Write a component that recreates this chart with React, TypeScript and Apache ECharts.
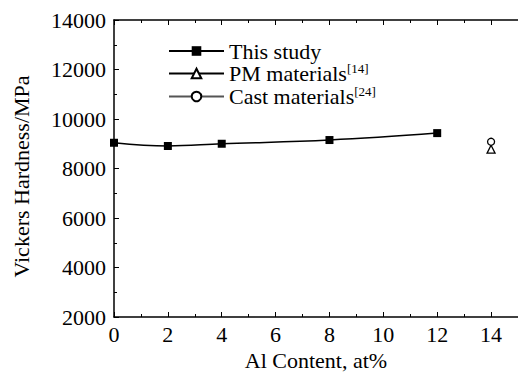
import React, { useEffect, useRef } from "react";
import * as echarts from "echarts";

const studyX = [0, 2, 4, 8, 12];
const studyY = [9040, 8910, 9000, 9150, 9430];
const pmX = [14];
const pmY = [8780];
const castX = [14];
const castY = [9080];
const xTicks = [0, 2, 4, 6, 8, 10, 12, 14];
const yTicks = [2000, 4000, 6000, 8000, 10000, 12000, 14000];

const FONT = "Liberation Serif";

export default function App() {
  const ref = useRef<HTMLDivElement>(null);
  useEffect(() => {
    if (!ref.current) return;
    const chart = echarts.init(ref.current, undefined, { renderer: "svg" });
    const axisLine = { show: true, lineStyle: { color: "#000", width: 1.5 } };
    chart.setOption({
      animation: false,
      backgroundColor: "#fff",
      grid: { left: 114, top: 20, width: 408, height: 297 },
      legend: {
        orient: "vertical",
        left: 163,
        top: 35,
        itemWidth: 55,
        itemHeight: 12,
        itemGap: 0,
        data: ["This study", "PM materials", "Cast materials"],
        textStyle: {
          fontFamily: FONT,
          fontSize: 22,
          color: "#000",
          rich: {
            a: { fontFamily: FONT, fontSize: 22, color: "#000", lineHeight: 24 },
            s: { fontFamily: FONT, fontSize: 13, color: "#000", lineHeight: 24, padding: [0, 0, 10, 0] },
          },
        },
        formatter: (name: string) => {
          if (name === "PM materials") return "{a|PM materials}{s|[14]}";
          if (name === "Cast materials") return "{a|Cast materials}{s|[24]}";
          return "{a|" + name + "}";
        },
      },
      xAxis: [
        {
          type: "value",
          min: 0,
          max: 15,
          interval: 2,
          position: "bottom",
          name: "Al Content, at%",
          nameLocation: "middle",
          nameGap: 31,
          nameTextStyle: { fontFamily: FONT, fontSize: 22, color: "#000" },
          axisLine,
          axisTick: { show: true, inside: true, length: 5, lineStyle: { color: "#000", width: 1 } },
          minorTick: { show: true, splitNumber: 2, length: 3, lineStyle: { color: "#000" } },
          axisLabel: {
            fontFamily: FONT,
            fontSize: 22,
            color: "#000",
            margin: 6,
            customValues: xTicks,
            formatter: (v: number) => String(v),
          },
          splitLine: { show: false },
        },
        {
          type: "value",
          min: 0,
          max: 15,
          interval: 2,
          position: "top",
          axisLine,
          axisTick: { show: true, inside: true, length: 5, lineStyle: { color: "#000", width: 1 } },
          minorTick: { show: true, splitNumber: 2, length: 3, lineStyle: { color: "#000" } },
          axisLabel: { show: false },
          splitLine: { show: false },
        },
      ],
      yAxis: {
        type: "value",
        min: 2000,
        max: 14000,
        interval: 2000,
        name: "Vickers Hardness/MPa",
        nameLocation: "middle",
        nameGap: 82,
        nameTextStyle: { fontFamily: FONT, fontSize: 22, color: "#000", padding: [0, 0, 0, -16] },
        axisLine,
        axisTick: { show: true, inside: true, length: 5, lineStyle: { color: "#000", width: 1 } },
        minorTick: { show: true, splitNumber: 2, length: 3, lineStyle: { color: "#000" } },
        axisLabel: {
          fontFamily: FONT,
          fontSize: 22,
          color: "#000",
          margin: 8,
          customValues: yTicks,
          formatter: (v: number) => String(v),
        },
        splitLine: { show: false },
      },
      series: [
        {
          name: "This study",
          type: "line",
          smooth: 0.4,
          data: studyX.map((x, i) => [x, studyY[i]]),
          symbol: "rect",
          symbolSize: 8,
          itemStyle: { color: "#000" },
          lineStyle: { color: "#000", width: 1.5 },
        },
        {
          name: "PM materials",
          type: "line",
          data: pmX.map((x, i) => [x, pmY[i]]),
          symbol: "triangle",
          symbolSize: 8,
          itemStyle: { color: "#fff", borderColor: "#000", borderWidth: 1.3 },
          lineStyle: { color: "#000", width: 1 },
        },
        {
          name: "Cast materials",
          type: "line",
          data: castX.map((x, i) => [x, castY[i]]),
          symbol: "circle",
          symbolSize: 7,
          itemStyle: { color: "#fff", borderColor: "#000", borderWidth: 1.3 },
          lineStyle: { color: "#555", width: 1 },
        },
      ],
    });
    return () => chart.dispose();
  }, []);
  return (
    <div
      ref={ref}
      style={{ position: "fixed", left: 0, top: 0, width: 518, height: 381, background: "#fff" }}
    />
  );
}
